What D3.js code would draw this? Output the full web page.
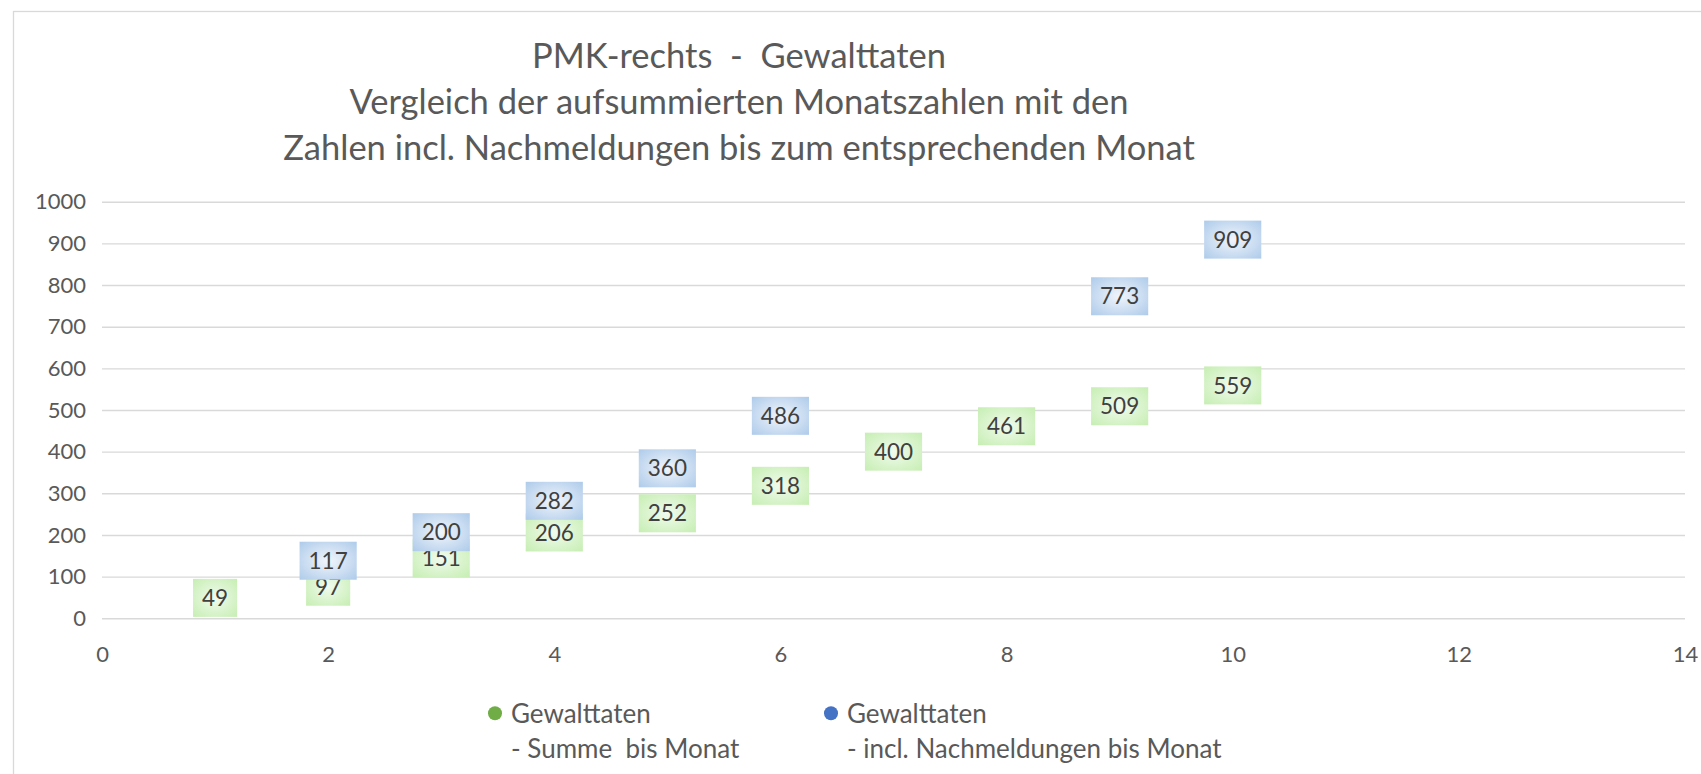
<!DOCTYPE html>
<html>
<head>
<meta charset="utf-8">
<script src="https://cdn.jsdelivr.net/npm/d3@7"></script>
<style>
  body { margin: 0; background: #fff; }
  svg { display: block; font-family: Lato, "Open Sans", sans-serif; }
  text { white-space: pre; }
</style>
</head>
<body>
<svg id="chart"></svg>
<script>
// data
var titleLines = ["PMK-rechts  -  Gewalttaten",
                  "Vergleich der aufsummierten Monatszahlen mit den",
                  "Zahlen incl. Nachmeldungen bis zum entsprechenden Monat"];

var summeMonat = [1, 2, 3, 4, 5, 6, 7, 8, 9, 10];
var summeWerte = [49, 97, 151, 206, 252, 318, 400, 461, 509, 559];

var nachMonat = [2, 3, 4, 5, 6, 9, 10];
var nachWerte = [117, 200, 282, 360, 486, 773, 909];

var xTicks = [0, 2, 4, 6, 8, 10, 12, 14];
var yTicks = [0, 100, 200, 300, 400, 500, 600, 700, 800, 900, 1000];

var legendLabels = [["Gewalttaten", "- Summe  bis Monat"],
                    ["Gewalttaten", "- incl. Nachmeldungen bis Monat"]];

var width = 1701,
    height = 774;

var svg = d3.select("#chart")
    .attr("width", width)
    .attr("height", height);

// gradients for the label boxes
var defs = svg.append("defs");
function radial(id, inner, outer) {
    var g = defs.append("radialGradient").attr("id", id)
        .attr("cx", "50%").attr("cy", "50%").attr("r", "70%");
    g.append("stop").attr("offset", "0%").attr("stop-color", inner);
    g.append("stop").attr("offset", "100%").attr("stop-color", outer);
}
radial("gGreen", "#f1fbee", "#c6eeb2");
radial("gBlue", "#f1f5fb", "#aecbea");

// chart border
svg.append("rect")
    .attr("x", 13.5).attr("y", 11.5)
    .attr("width", width + 20).attr("height", height + 20)
    .attr("fill", "none")
    .attr("stroke", "#d9d9d9")
    .attr("stroke-width", 1.3);

var x = d3.scaleLinear().domain([0, 14]).range([102, 1685]);
var y = d3.scaleLinear().domain([0, 1000]).range([618.3, 201.7]);

// title
svg.append("g").selectAll("text")
    .data(titleLines)
    .enter().append("text")
    .attr("x", 739)
    .attr("y", function(d, i) { return 68 + i * 46; })
    .attr("text-anchor", "middle")
    .attr("fill", "#595959")
    .style("font-size", "34.5px")
    .text(function(d) { return d; });

// grid + y axis
var yAxis = d3.axisLeft(y)
    .tickValues(yTicks)
    .tickFormat(d3.format("d"))
    .tickSize(-(x.range()[1] - x.range()[0]))
    .tickPadding(16);

svg.append("g")
    .attr("transform", "translate(" + x.range()[0] + ",0)")
    .call(yAxis)
    .call(function(g) {
        g.select(".domain").remove();
        g.selectAll(".tick line").attr("stroke", "#d9d9d9").attr("stroke-width", 1.4);
        g.selectAll(".tick text").attr("fill", "#595959").style("font-size", "22px")
            .style("font-family", "Lato, sans-serif");
    });

// x axis
var xAxis = d3.axisBottom(x)
    .tickValues(xTicks)
    .tickSize(0)
    .tickPadding(28);

svg.append("g")
    .attr("transform", "translate(0," + y.range()[0] + ")")
    .call(xAxis)
    .call(function(g) {
        g.select(".domain").remove();
        g.selectAll(".tick text").attr("fill", "#595959").style("font-size", "22px")
            .style("font-family", "Lato, sans-serif");
    });

// points with their labels
var series = [
    { months: summeMonat, values: summeWerte, color: "#70ad47", fill: "url(#gGreen)" },
    { months: nachMonat, values: nachWerte, color: "#4472c4", fill: "url(#gBlue)" }
];

series.forEach(function(s) {
    s.pts = s.months.map(function(m, i) { return { m: m, v: s.values[i], ly: y(s.values[i]) }; });
});

// keep labels of the same month readable: push close pairs apart evenly
var minGap = 26;
series[1].pts.forEach(function(b) {
    series[0].pts.forEach(function(g) {
        if (g.m !== b.m) return;
        var gap = g.ly - b.ly;
        if (gap >= 0 && gap < minGap) {
            var half = (minGap - gap) / 2;
            b.ly -= half;
            g.ly += half;
        }
    });
});

series.forEach(function(s) {
    var g = svg.append("g");

    g.selectAll("circle")
        .data(s.pts)
        .enter().append("circle")
        .attr("cx", function(d) { return x(d.m); })
        .attr("cy", function(d) { return y(d.v); })
        .attr("r", 4)
        .attr("fill", s.color);

    var lab = g.selectAll("g.lab")
        .data(s.pts)
        .enter().append("g")
        .attr("class", "lab")
        .attr("transform", function(d) { return "translate(" + x(d.m) + "," + d.ly + ")"; });

    var box = lab.append("rect").attr("fill", s.fill);
    var txt = lab.append("text")
        .attr("text-anchor", "middle")
        .attr("dy", "0.36em")
        .attr("fill", "#404040")
        .style("font-size", "22.5px")
        .text(function(d) { return d.v; });

    box.each(function(d, i) {
        var w = txt.nodes()[i].getComputedTextLength() + 18;
        d3.select(this)
            .attr("x", -w / 2).attr("y", -19)
            .attr("width", w).attr("height", 38);
    });
});

// legend
var legend = svg.append("g")
    .selectAll("g")
    .data(legendLabels)
    .enter().append("g")
    .attr("transform", function(d, i) { return "translate(" + (495 + i * 336) + ",713.3)"; });

legend.append("circle")
    .attr("r", 7)
    .attr("fill", function(d, i) { return series[i].color; });

legend.append("text")
    .attr("fill", "#595959")
    .style("font-size", "26px")
    .selectAll("tspan")
    .data(function(d) { return d; })
    .enter().append("tspan")
    .attr("x", 16)
    .attr("y", function(d, i) { return i * 35; })
    .attr("dy", "0.36em")
    .text(function(d) { return d; });
</script>
</body>
</html>
